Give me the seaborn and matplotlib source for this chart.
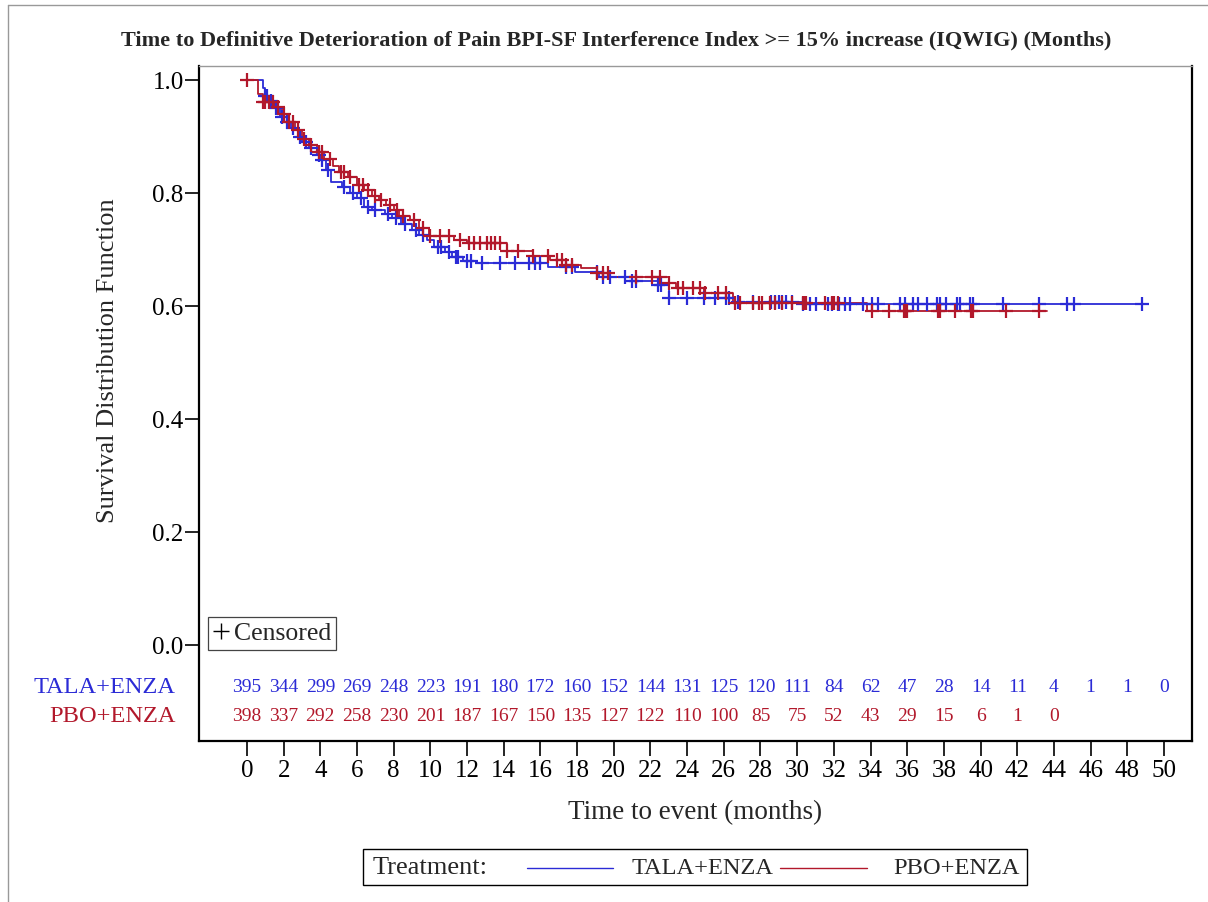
import numpy as np
import pandas as pd
import matplotlib
matplotlib.use("Agg")
import matplotlib.pyplot as plt
import seaborn as sns
from matplotlib.lines import Line2D
from matplotlib.patches import Rectangle
from matplotlib.transforms import blended_transform_factory

# ---------------------------------------------------------------- data
arms = ["TALA+ENZA", "PBO+ENZA"]

# Kaplan-Meier step points (time in months, survival after the step)
tala_time = [0.0, 0.9, 1.0, 1.2, 1.5, 1.8, 2.0, 2.4, 2.8, 3.0, 3.4, 3.8, 4.0,
             4.3, 4.6, 5.2, 5.6, 6.0, 6.4, 6.8, 7.5, 7.9, 8.4, 9.0, 9.4, 9.8,
             10.2, 10.8, 11.2, 11.8, 12.5, 16.4, 17.9, 19.2, 21.0, 22.4, 23.0,
             26.6, 30.3, 49.0]
tala_surv = [1.000, 0.985, 0.972, 0.962, 0.950, 0.935, 0.925, 0.915, 0.900,
             0.890, 0.880, 0.868, 0.858, 0.840, 0.820, 0.810, 0.800, 0.792,
             0.775, 0.770, 0.762, 0.755, 0.745, 0.735, 0.725, 0.717, 0.705,
             0.695, 0.687, 0.680, 0.677, 0.669, 0.660, 0.652, 0.645, 0.637,
             0.614, 0.607, 0.6035, 0.6035]

pbo_time = [0.0, 0.6, 0.9, 1.5, 1.9, 2.2, 2.6, 3.0, 3.4, 3.8, 4.2, 4.7, 5.0,
            5.5, 6.0, 6.4, 6.8, 7.2, 7.6, 8.0, 8.3, 8.9, 9.4, 9.9, 11.3, 12.0,
            14.2, 15.6, 16.5, 17.4, 18.2, 19.1, 19.8, 23.0, 23.4, 24.9, 26.5,
            33.8, 43.6]
pbo_surv = [1.000, 0.975, 0.961, 0.952, 0.940, 0.925, 0.912, 0.895, 0.885,
            0.872, 0.860, 0.848, 0.838, 0.828, 0.815, 0.805, 0.795, 0.788,
            0.778, 0.770, 0.760, 0.752, 0.738, 0.724, 0.717, 0.711, 0.697,
            0.688, 0.681, 0.672, 0.667, 0.658, 0.651, 0.641, 0.632, 0.623,
            0.606, 0.591, 0.591]

# censoring times (months)
tala_censor = [1.0, 1.1, 1.3, 1.6, 1.9, 2.2, 2.5, 2.9, 3.2, 3.5, 3.9, 4.1, 4.4,
               5.3, 5.8, 6.2, 6.6, 7.0, 7.7, 8.1, 8.6, 9.2, 9.6, 10.4, 10.6,
               11.0, 11.4, 11.5, 12.0, 12.2, 12.8, 13.8, 14.6, 15.4, 15.7, 16.0,
               17.4, 17.7, 19.1, 19.4, 19.8, 20.6, 21.0, 21.2, 22.4, 22.6, 23.0,
               24.0, 24.9, 25.5, 26.1, 26.3, 26.8, 27.6, 28.6, 28.8, 29.0, 29.2,
               29.4, 29.7, 30.3, 30.7, 31.0, 31.7, 31.9, 32.2, 32.3, 32.6, 32.9,
               33.6, 34.1, 34.4, 35.6, 35.9, 36.3, 36.6, 37.1, 37.6, 37.8, 38.1,
               38.7, 38.9, 39.4, 39.6, 41.2, 43.2, 44.7, 45.1, 48.8]
pbo_censor = [0.0, 0.9, 1.0, 1.2, 1.4, 1.7, 2.0, 2.3, 2.5, 2.8, 3.1, 3.5, 3.9,
              4.1, 4.5, 5.1, 5.3, 5.6, 6.1, 6.3, 6.6, 7.0, 7.3, 7.8, 8.2, 8.5,
              9.1, 9.6, 10.0, 10.5, 11.0, 11.6, 12.1, 12.4, 12.7, 13.1, 13.3,
              13.5, 13.8, 14.2, 14.8, 15.6, 16.4, 16.9, 17.2, 17.4, 17.7, 19.1,
              19.4, 19.7, 21.2, 22.1, 22.5, 23.0, 23.5, 23.8, 24.3, 24.7, 25.0,
              25.7, 26.1, 26.6, 26.9, 27.6, 27.9, 28.1, 28.5, 28.8, 29.2, 29.7,
              30.3, 30.4, 30.5, 31.5, 31.9, 32.0, 32.2, 34.1, 35.0, 35.8, 35.9,
              36.0, 37.7, 37.8, 38.6, 39.5, 39.6, 41.4, 43.2]

# numbers at risk every 2 months
risk_times = list(range(0, 52, 2))
tala_at_risk = [395, 344, 299, 269, 248, 223, 191, 180, 172, 160, 152, 144, 131,
                125, 120, 111, 84, 62, 47, 28, 14, 11, 4, 1, 1, 0]
pbo_at_risk = [398, 337, 292, 258, 230, 201, 187, 167, 150, 135, 127, 122, 110,
               100, 85, 75, 52, 43, 29, 15, 6, 1, 0]

x_ticks = list(range(0, 52, 2))
y_ticks = [0.0, 0.2, 0.4, 0.6, 0.8, 1.0]

BLUE = "#2B2BD6"
RED = "#B2182B"
palette = {"TALA+ENZA": BLUE, "PBO+ENZA": RED}

# ---------------------------------------------------------------- tables
def step_value(times, surv, t):
    idx = np.searchsorted(np.asarray(times), t, side="right") - 1
    return np.asarray(surv)[np.clip(idx, 0, len(surv) - 1)]

curve_df = pd.concat([
    pd.DataFrame({"arm": "TALA+ENZA", "time": tala_time, "surv": tala_surv}),
    pd.DataFrame({"arm": "PBO+ENZA", "time": pbo_time, "surv": pbo_surv}),
], ignore_index=True)

cens_df = pd.concat([
    pd.DataFrame({"arm": "TALA+ENZA", "time": tala_censor,
                  "surv": step_value(tala_time, tala_surv, tala_censor)}),
    pd.DataFrame({"arm": "PBO+ENZA", "time": pbo_censor,
                  "surv": step_value(pbo_time, pbo_surv, pbo_censor)}),
], ignore_index=True)

# ---------------------------------------------------------------- style
sns.set_style("ticks")
plt.rcParams["font.family"] = ["Liberation Serif", "DejaVu Serif"]
plt.rcParams["axes.linewidth"] = 1.5

W, H = 1208, 902
fig = plt.figure(figsize=(W / 100, H / 100), dpi=100)
fig.patch.set_facecolor("white")

ax_l, ax_r, ax_t, ax_b = 199, 1192, 66, 741
ax = fig.add_axes([ax_l / W, 1 - ax_b / H, (ax_r - ax_l) / W, (ax_b - ax_t) / H])

# survival curves
for arm in arms:
    sub = curve_df[curve_df["arm"] == arm]
    sns.lineplot(data=sub, x="time", y="surv", color=palette[arm],
                 drawstyle="steps-post", estimator=None, sort=False,
                 linewidth=1.3, legend=False, ax=ax)

# censor marks
for arm in arms:
    sub = cens_df[cens_df["arm"] == arm]
    sns.scatterplot(data=sub, x="time", y="surv", color=palette[arm],
                    marker="+", s=110, linewidth=1.6, legend=False, ax=ax,
                    zorder=3)

ax.set_xlim(-2.617, 51.53)
ax.set_ylim(-0.1699, 1.0248)
ax.set_xticks(x_ticks)
ax.set_yticks(y_ticks)
ax.set_yticklabels([f"{v:.1f}" for v in y_ticks])
ax.tick_params(axis="both", direction="out", width=1.2, labelsize=18,
               colors="black")
ax.tick_params(axis="x", length=11, pad=2.5)
ax.tick_params(axis="y", length=10, pad=1)

for side in ["left", "bottom", "right"]:
    ax.spines[side].set_color("black")
    ax.spines[side].set_linewidth(1.6)
ax.spines["top"].set_color("#999999")
ax.spines["top"].set_linewidth(1.0)

ax.set_xlabel("Time to event (months)", fontsize=19.5)
ax.set_ylabel("Survival Distribution Function", fontsize=19)
ax.xaxis.set_label_coords(0.5, (ax_b - 800) / (ax_b - ax_t))
ax.yaxis.set_label_coords((119 - ax_l) / (ax_r - ax_l), (ax_b - 361) / (ax_b - ax_t))

# numbers at risk inside the plot area
risk_y = {"TALA+ENZA": (645 - 687) / 565, "PBO+ENZA": (645 - 716) / 565}
for t, n in zip(risk_times, tala_at_risk):
    ax.text(t, risk_y["TALA+ENZA"], str(n), ha="center", va="center",
            fontsize=14, color=BLUE)
for t, n in zip(risk_times, pbo_at_risk):
    ax.text(t, risk_y["PBO+ENZA"], str(n), ha="center", va="center",
            fontsize=14, color=RED)

row_tr = blended_transform_factory(ax.transAxes, ax.transData)
for arm in arms:
    ax.text((176 - ax_l) / (ax_r - ax_l), risk_y[arm], arm, transform=row_tr,
            ha="right", va="center", fontsize=17.6, color=palette[arm],
            clip_on=False)

# censored key
cens_handle = Line2D([], [], linestyle="none", marker="+", markersize=11,
                     markeredgewidth=1.0, color="black")
leg = ax.legend([cens_handle], ["Censored"], loc="lower left",
                bbox_to_anchor=((208 - ax_l) / (ax_r - ax_l), (ax_b - 650) / (ax_b - ax_t)),
                borderaxespad=0, frameon=True, fancybox=False, framealpha=1,
                edgecolor="#444444", fontsize=18.5, handlelength=0.6,
                handletextpad=0.2, borderpad=0.2)
leg.get_frame().set_linewidth(0.9)

# title
fig.text(616 / W, 1 - 40 / H,
         "Time to Definitive Deterioration of Pain BPI-SF Interference Index >= 15% increase (IQWIG) (Months)",
         ha="center", va="center", fontsize=16, fontweight="bold")

# treatment key at the bottom
key_y = 1 - 868 / H
fig.add_artist(Rectangle((363 / W, 1 - 885 / H), (1027 - 363) / W, 36 / H,
                         transform=fig.transFigure, facecolor="white",
                         edgecolor="black", linewidth=1.0))
fig.text(373 / W, key_y, "Treatment:", ha="left", va="center", fontsize=19)
key_items = [("TALA+ENZA", 527, 613, 631), ("PBO+ENZA", 780, 867, 893)]
for arm, x0, x1, xt in key_items:
    fig.add_artist(Line2D([x0 / W, x1 / W], [key_y, key_y],
                          transform=fig.transFigure, color=palette[arm],
                          linewidth=1.0))
    fig.text(xt / W, key_y, arm, ha="left", va="center", fontsize=17.6)

# page frame
fig.add_artist(Line2D([8 / W, 8 / W], [0, 1 - 5 / H], transform=fig.transFigure,
                      color="#999999", linewidth=1.0))
fig.add_artist(Line2D([8 / W, 1], [1 - 5 / H, 1 - 5 / H], transform=fig.transFigure,
                      color="#999999", linewidth=1.0))

fig.savefig("out.png", dpi=100, facecolor="white")
